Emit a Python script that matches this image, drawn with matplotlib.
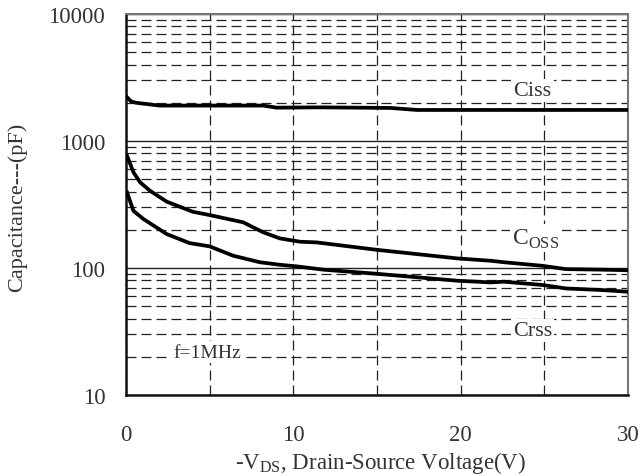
import matplotlib
matplotlib.use("Agg")
import matplotlib.pyplot as plt
from matplotlib.ticker import FixedLocator, LogLocator, NullFormatter, FixedFormatter

plt.rcParams['font.family'] = ['Liberation Serif', 'DejaVu Serif']

# Data
vds_ciss = [0.0, 0.3, 0.6, 2.0, 8.2, 9.0, 11.6, 15.8, 17.4, 30.0]
ciss = [2250, 2050, 2000, 1900, 1900, 1830, 1840, 1820, 1755, 1755]

vds_coss = [0.06, 0.44, 0.84, 1.43, 2.43, 4.0, 5.0, 7.0, 8.2, 9.2, 10.4, 11.4, 15.0, 19.8, 21.8, 22.6, 24.9, 26.3, 28.5, 30.0]
coss = [765, 568, 473, 406, 333, 277, 261, 229, 191, 171, 161, 159, 139, 119, 114, 111, 104, 98, 97, 96]

vds_crss = [0.06, 0.44, 1.04, 2.43, 3.8, 5.0, 6.4, 8.0, 9.2, 10.2, 11.8, 15.0, 19.8, 21.8, 22.6, 24.9, 26.3, 28.5, 30.0]
crss = [394, 282, 243, 185, 157, 148, 125, 111, 106, 103, 97, 90, 79.4, 77, 78, 73.5, 69, 67, 65]

x_ticks = [0, 10, 20, 30]
x_minor = [5, 15, 25]
y_ticks = [10, 100, 1000, 10000]
y_ticklabels = ['10', '100', '1000', '10000']

fig = plt.figure(figsize=(6.42, 4.77), dpi=100)
ax = fig.add_axes([0.1963, 0.1698, 0.7817, 0.7988])
ax.set_yscale('log')
ax.set_xlim(0, 30)
ax.set_ylim(10, 10000)

ax.xaxis.set_major_locator(FixedLocator(x_ticks))
ax.xaxis.set_minor_locator(FixedLocator(x_minor))
ax.yaxis.set_major_locator(FixedLocator(y_ticks))
ax.yaxis.set_major_formatter(FixedFormatter(y_ticklabels))
ax.yaxis.set_minor_locator(LogLocator(base=10, subs=range(2, 10)))
ax.yaxis.set_minor_formatter(NullFormatter())

dash = (0, (8, 4))
ax.grid(True, which='major', axis='y', color='#222222', linestyle='-', linewidth=1.0)
ax.grid(True, which='minor', axis='y', color='#222222', linestyle=dash, linewidth=0.9)
ax.grid(True, which='both', axis='x', color='#222222', linestyle=dash, linewidth=0.9)
ax.set_axisbelow(True)

ax.tick_params(which='both', length=0)
ax.tick_params(axis='y', pad=15, labelsize=16.5, labelcolor='#333333')
ax.tick_params(axis='x', pad=21, labelsize=16.5, labelcolor='#333333')

for s in ['left', 'bottom']:
    ax.spines[s].set_linewidth(1.8)
    ax.spines[s].set_color('#111111')
for s in ['right', 'top']:
    ax.spines[s].set_linewidth(1.5)
    ax.spines[s].set_color('#777777')

lw = 2.7
ax.plot(vds_ciss, ciss, color='black', linewidth=lw, zorder=3)
ax.plot(vds_coss, coss, color='black', linewidth=lw, zorder=3)
ax.plot(vds_crss, crss, color='black', linewidth=lw, zorder=3)

bb = dict(facecolor='white', edgecolor='none', pad=1.5)
ax.text(24.3, 2480, 'Ciss', fontsize=16, color='#333333', ha='center', va='center', bbox=bb, zorder=4)
ax.text(24.5, 172, r'C$_{\mathregular{OSS}}$', fontsize=17, color='#333333', ha='center', va='center', bbox=bb, zorder=4)
ax.text(24.3, 32, 'Crss', fontsize=16, color='#333333', ha='center', va='center', bbox=bb, zorder=4)
ax.text(4.85, 21.8, 'f=1MHz', fontsize=14, color='#333333', ha='center', va='center', bbox=bb, zorder=4)

fig.text(381 / 642, 1 - 469 / 477, r'-V$_{\mathregular{DS}}$, Drain-Source Voltage(V)', fontsize=16.5,
         color='#333333', ha='center', va='baseline')
fig.text(17 / 642, 1 - 207 / 477, 'Capacitance---(pF)', fontsize=16, color='#333333',
         ha='center', va='center', rotation=90)

fig.savefig('out.png', dpi=100)
